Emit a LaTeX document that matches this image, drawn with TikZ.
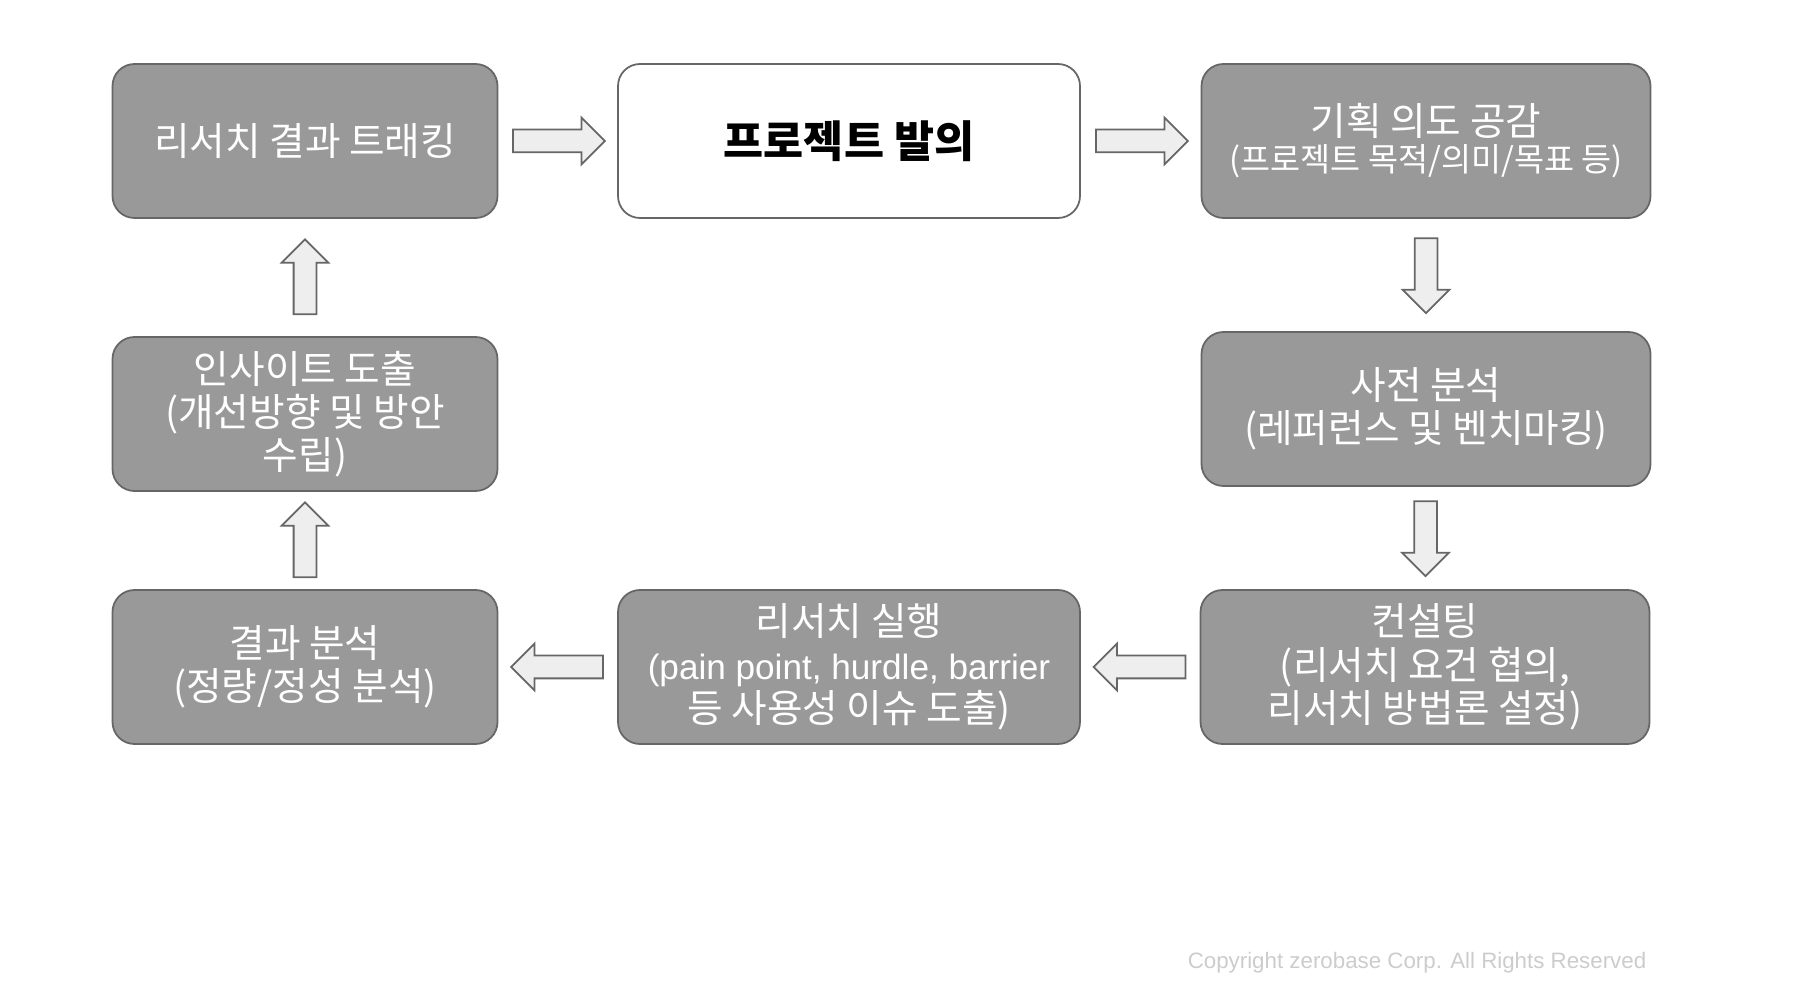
\documentclass[tikz,border=0pt]{standalone}
\usepackage{fontspec}
\setmainfont{Liberation Sans}
\newfontfamily\kr{Noto Sans CJK KR}
\usetikzlibrary{shapes.arrows,calc}
\definecolor{boxgray}{HTML}{999999}
\definecolor{edgegray}{HTML}{666666}
\definecolor{arrowgray}{HTML}{EEEEEE}
\definecolor{copygray}{HTML}{CCCCCC}
\begin{document}
\begin{tikzpicture}[
    stage/.style={draw=edgegray, line width=0.5pt, fill=boxgray, rounded corners=0.22cm,
        minimum width=3.85cm, minimum height=1.54cm, inner sep=0pt, align=center,
        text=white, font=\kr\fontsize{11}{12.3}\selectfont},
    fatarrow/.style={single arrow, draw=edgegray, line width=0.5pt, fill=arrowgray,
        single arrow head extend=0.12cm, inner sep=0.105cm,
        minimum height=#1},
]
    \useasboundingbox (0,0) rectangle (18.1,-9.88);

    % Top row
    \node[stage] (track) at (3.05,-1.41) {리서치 결과 트래킹};
    \node[stage, minimum width=4.62cm, fill=white, text=black,
        font=\kr\bfseries\fontsize{12.4}{14}\selectfont] (propose) at (8.49,-1.41) {프로젝트 발의};
    \node[stage, minimum width=4.49cm] (intent) at (14.26,-1.41)
        {기획 의도 공감\\[-2pt]{\fontsize{9.3}{11}\selectfont (프로젝트 목적/의미/목표 등)}};

    % Middle row
    \node[stage, minimum width=4.49cm] (prior) at (14.26,-4.09)
        {사전 분석\\(레퍼런스 및 벤치마킹)};
    \node[stage] (insight) at (3.05,-4.14)
        {인사이트 도출\\(개선방향 및 방안\\수립)};

    % Bottom row
    \node[stage, minimum width=4.49cm] (consult) at (14.25,-6.67)
        {컨설팅\\(리서치 요건 협의,\\리서치 방법론 설정)};
    \node[stage, minimum width=4.62cm] (run) at (8.49,-6.67)
        {리서치 실행\\{\rmfamily\fontsize{10}{12}\selectfont (pain point, hurdle, barrier}\\등 사용성 이슈 도출)};
    \node[stage] (result) at (3.05,-6.67)
        {결과 분석\\(정량/정성 분석)};

    % Block arrows between the stages (pulled back a little, the head is longer than the tail)
    \node[fatarrow=0.92cm] (a1) at ($(track.east)!0.5!(propose.west)+(-0.045,0)$) {};
    \node[fatarrow=0.92cm] (a2) at ($(propose.east)!0.5!(intent.west)+(-0.045,0)$) {};
    \node[fatarrow=0.75cm, rotate=-90] (a3) at ($(intent.south)!0.5!(prior.north)+(0,0.05)$) {};
    \node[fatarrow=0.75cm, rotate=-90] (a4) at ($(prior.south)!0.5!(consult.north)+(0,0.05)$) {};
    \node[fatarrow=0.92cm, rotate=180] (a5) at ($(consult.west)!0.5!(run.east)+(0.05,0)$) {};
    \node[fatarrow=0.92cm, rotate=180] (a6) at ($(run.west)!0.5!(result.east)+(0.05,0)$) {};
    \node[fatarrow=0.75cm, rotate=90] (a7) at ($(result.north)!0.5!(insight.south)+(0,-0.05)$) {};
    \node[fatarrow=0.75cm, rotate=90] (a8) at ($(insight.north)!0.5!(track.south)+(0,-0.05)$) {};

    % Copyright line
    \node[anchor=east, inner sep=0pt, text=copygray, font=\fontsize{6.35}{8}\selectfont]
        (copy) at (16.47,-9.63) {Copyright zerobase Corp. All Rights Reserved};
\end{tikzpicture}
\end{document}
